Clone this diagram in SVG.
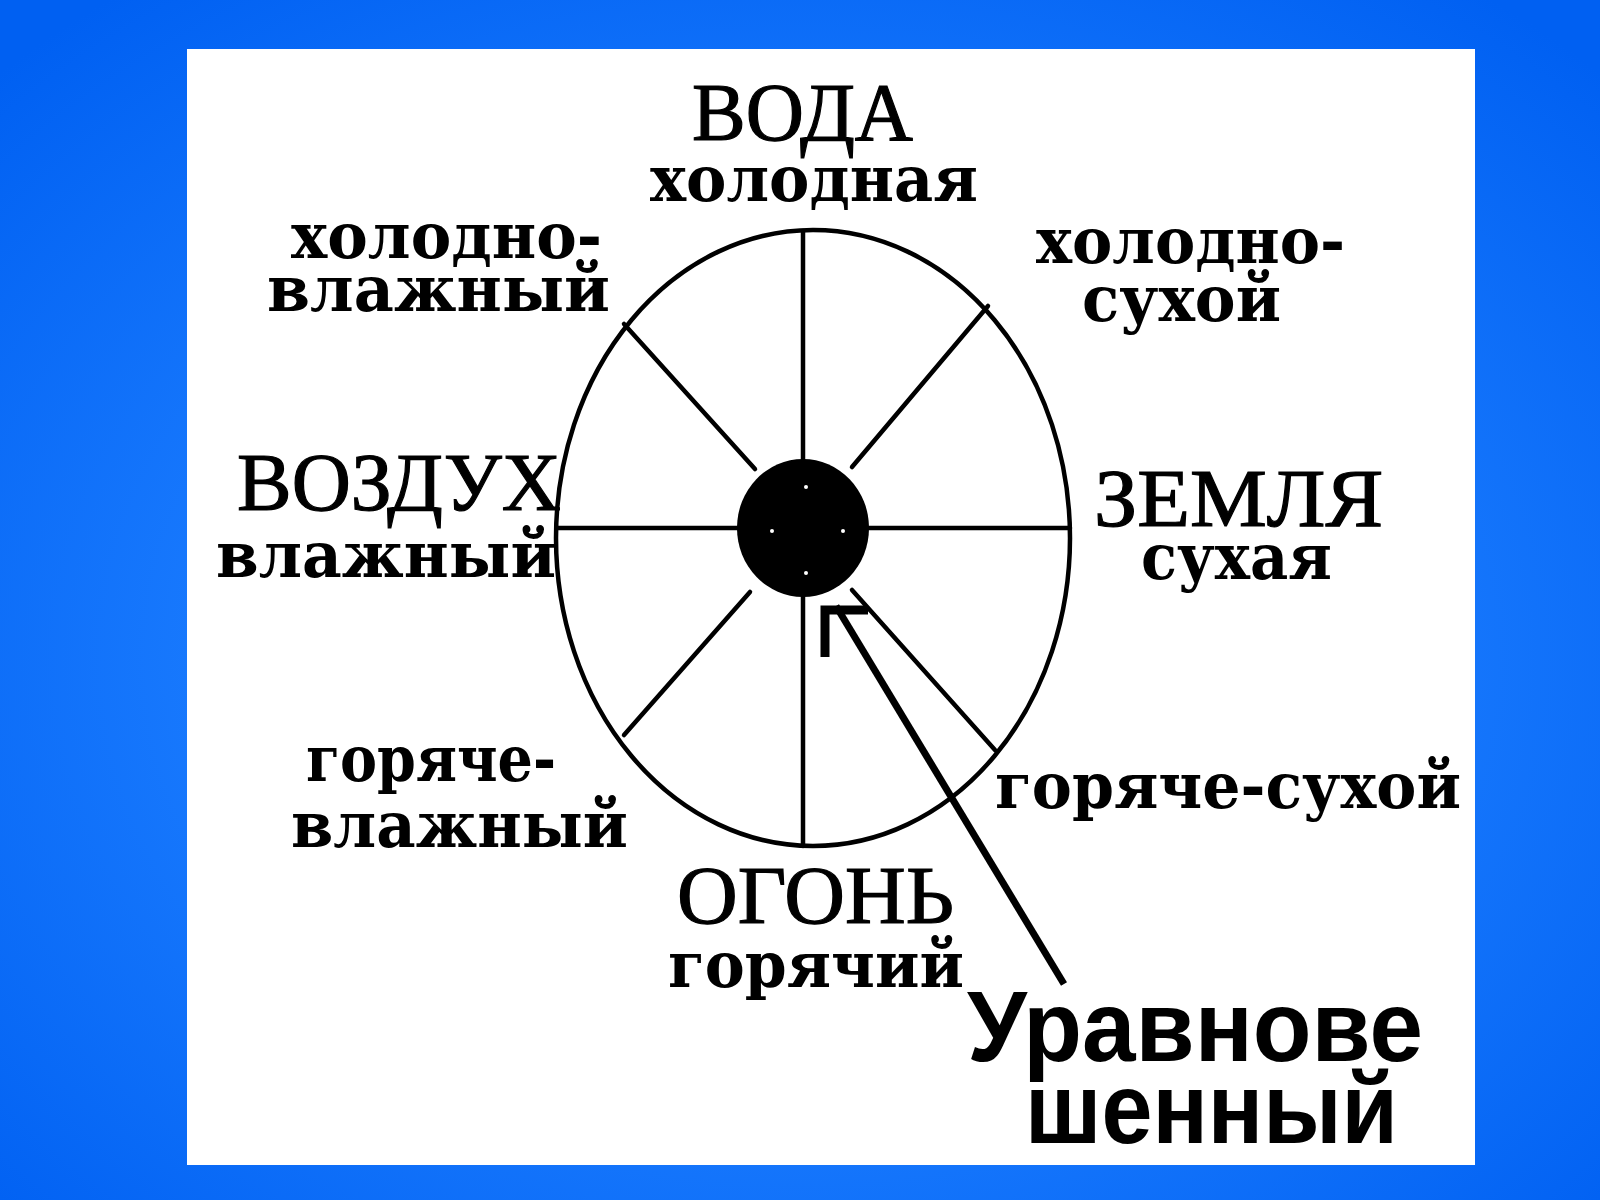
<svg xmlns="http://www.w3.org/2000/svg" width="1600" height="1200" viewBox="0 0 1600 1200">
<defs>
<radialGradient id="bg" cx="50%" cy="55%" r="70%">
<stop offset="0%" stop-color="#3a95ff"/>
<stop offset="45%" stop-color="#1c7dff"/>
<stop offset="100%" stop-color="#0060f2"/>
</radialGradient>
<style>
.line{stroke:#000;stroke-width:4.5;fill:none;stroke-linecap:round}
.cap{font-family:"Liberation Serif","Times New Roman",serif;font-size:82px;fill:#000;stroke:#000;stroke-width:1.2}
.low{font-family:"DejaVu Serif","Liberation Serif",serif;font-weight:bold;font-size:63px;fill:#000}
.sans{font-family:"Liberation Sans",Arial,sans-serif;font-weight:bold;font-size:100px;fill:#000}
</style>
</defs>
<rect x="0" y="0" width="1600" height="1200" fill="url(#bg)"/>
<rect x="187" y="49" width="1288" height="1116" fill="#ffffff"/>

<g id="connectors">
<ellipse cx="813" cy="538" rx="257" ry="308" class="line"/>
<line x1="803" y1="231" x2="803" y2="846" class="line"/>
<line x1="557" y1="528" x2="1070" y2="528" class="line"/>
<line x1="624" y1="324" x2="755" y2="469" class="line"/>
<line x1="988" y1="306" x2="852" y2="467" class="line"/>
<line x1="624" y1="735" x2="750" y2="592" class="line"/>
<line x1="995" y1="750" x2="852" y2="590" class="line"/>
<line x1="836" y1="606" x2="1064" y2="984" stroke="#000" stroke-width="7"/>
<path d="M825,657 L825,610 L868,610" fill="none" stroke="#000" stroke-width="9"/>
</g>

<g id="center">
<ellipse cx="803" cy="528" rx="66" ry="69" fill="#000"/>
<circle cx="806" cy="487" r="2" fill="#fff"/>
<circle cx="772" cy="531" r="2" fill="#fff"/>
<circle cx="843" cy="531" r="2" fill="#fff"/>
<circle cx="806" cy="573" r="2" fill="#fff"/>
</g>

<g id="voda">
<text x="692" y="140" class="cap" textLength="221" lengthAdjust="spacingAndGlyphs">ВОДА</text>
<text x="650" y="201" class="low" textLength="328" lengthAdjust="spacingAndGlyphs">холодная</text>
</g>
<g id="cold-wet">
<text x="291" y="258" class="low" textLength="311" lengthAdjust="spacingAndGlyphs">холодно-</text>
<text x="267" y="311" class="low" textLength="343" lengthAdjust="spacingAndGlyphs">влажный</text>
</g>
<g id="cold-dry">
<text x="1036" y="263" class="low" textLength="309" lengthAdjust="spacingAndGlyphs">холодно-</text>
<text x="1082" y="321" class="low" textLength="199" lengthAdjust="spacingAndGlyphs">сухой</text>
</g>
<g id="vozduh">
<text x="237" y="510" class="cap" textLength="324" lengthAdjust="spacingAndGlyphs">ВОЗДУХ</text>
<text x="216" y="577" class="low" textLength="340" lengthAdjust="spacingAndGlyphs">влажный</text>
</g>
<g id="zemlya">
<text x="1094" y="526" class="cap" textLength="289" lengthAdjust="spacingAndGlyphs">ЗЕМЛЯ</text>
<text x="1141" y="579" class="low" textLength="191" lengthAdjust="spacingAndGlyphs">сухая</text>
</g>
<g id="hot-wet">
<text x="306" y="781" class="low" textLength="250" lengthAdjust="spacingAndGlyphs">горяче-</text>
<text x="291" y="847" class="low" textLength="337" lengthAdjust="spacingAndGlyphs">влажный</text>
</g>
<g id="hot-dry">
<text x="995" y="808" class="low" textLength="466" lengthAdjust="spacingAndGlyphs">горяче-сухой</text>
</g>
<g id="ogon">
<text x="677" y="923" class="cap" textLength="277" lengthAdjust="spacingAndGlyphs">ОГОНЬ</text>
<text x="668" y="987" class="low" textLength="296" lengthAdjust="spacingAndGlyphs">горячий</text>
</g>
<g id="balanced">
<text x="967" y="1061" class="sans" textLength="456" lengthAdjust="spacingAndGlyphs">Уравнове</text>
<text x="1025" y="1143" class="sans" textLength="373" lengthAdjust="spacingAndGlyphs">шенный</text>
</g>
</svg>
